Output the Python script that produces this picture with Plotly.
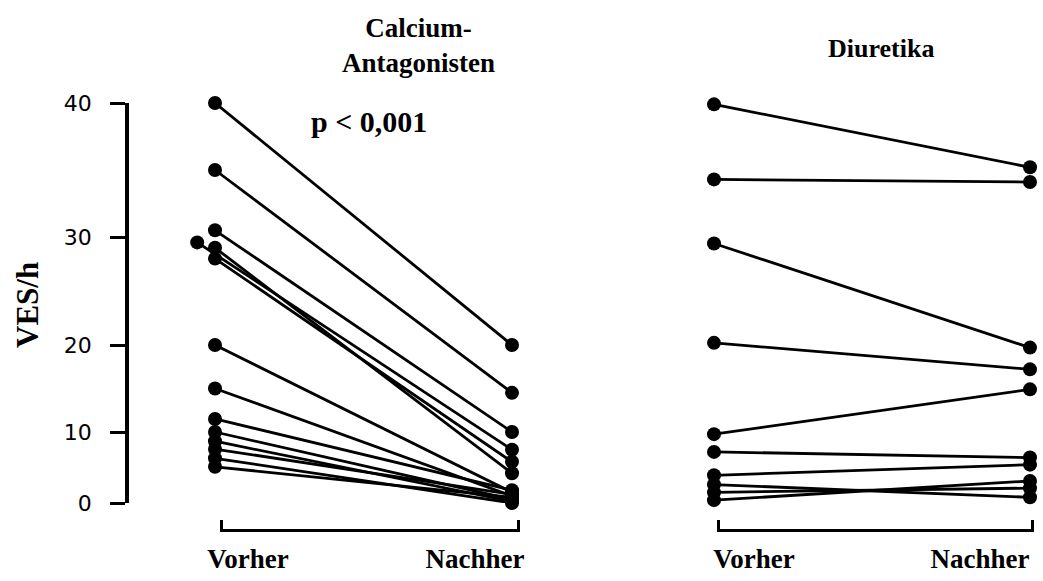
import numpy as np
import plotly.graph_objects as go

# VES/h per patient, before ("Vorher") and after ("Nachher") treatment
ca_vorher = [40, 35, 30.5, 29.5, 29, 28, 20, 15, 11.5, 10, 8.7, 7.6, 6.3, 5.1]
ca_nachher = [20, 14.5, 10, 7.5, 4.2, 5.8, 1.5, 1.0, 1.8, 0.5, 0.2, 1.2, 0.0, 0.8]

di_vorher = [39.9, 34.3, 29.4, 20.2, 9.7, 7.2, 3.9, 2.6, 1.5, 0.4]
di_nachher = [35.2, 34.1, 19.7, 17.2, 14.9, 6.4, 5.4, 0.8, 2.1, 3.1]

# small sideways shift so overlapping dots stay visible
ca_dodge = [0, 0, 0, -0.06, 0, 0, 0, 0, 0, 0, 0, 0, 0, 0]

y_ticks = [0, 10, 20, 30, 40]
# the printed ordinate is stretched towards the top; spacing of the tick steps
scale_steps = [0, 71, 158, 266, 400]


def scale(v):
    return np.interp(v, y_ticks, scale_steps)


def pairs(before, after, dodge=None):
    xs, ys = [], []
    for i, (b, a) in enumerate(zip(before, after)):
        d = dodge[i] if dodge else 0
        xs += [0 + d, 1, None]
        ys += [float(scale(b)), float(scale(a)), None]
    return xs, ys


W, H = 1043, 581
TOP, BOT = 90, 530          # plot area in pixels
PH = BOT - TOP

serif = "Liberation Serif"
sans = "DejaVu Sans"


def px_x(p):
    return p / W


def px_y(p):
    return (BOT - p) / PH


fig = go.Figure()

# data layers (x3, x4) sit on wide invisible axes; x and x2 carry the brackets
x1, y1 = pairs(ca_vorher, ca_nachher, ca_dodge)
x2, y2 = pairs(di_vorher, di_nachher)
for xs, ys, xa in ((x1, y1, "x3"), (x2, y2, "x4")):
    fig.add_trace(go.Scatter(
        x=xs, y=ys, mode="lines+markers", xaxis=xa, yaxis="y",
        line=dict(color="black", width=2.8),
        marker=dict(color="black", size=14), cliponaxis=False,
        hoverinfo="skip", showlegend=False,
    ))
for xa in ("x", "x2"):
    fig.add_trace(go.Scatter(x=[None], y=[None], xaxis=xa, yaxis="y",
                             mode="markers", hoverinfo="skip", showlegend=False))


def data_axis(dom_px, v0_px, v1_px):
    span = v1_px - v0_px
    return dict(
        domain=[px_x(dom_px[0]), px_x(dom_px[1])],
        range=[(dom_px[0] - v0_px) / span, (dom_px[1] - v0_px) / span],
        anchor="y", visible=False, fixedrange=True,
    )


def bracket_axis(dom_px, lab_px):
    span = dom_px[1] - dom_px[0]
    return dict(
        domain=[px_x(dom_px[0]), px_x(dom_px[1])],
        range=[0, 1], anchor="free", position=0,
        showline=True, linecolor="black", linewidth=3,
        showgrid=False, zeroline=False, ticks="",
        tickvals=[(lab_px[0] - dom_px[0]) / span, (lab_px[1] - dom_px[0]) / span],
        ticktext=["<b>Vorher</b>", "<b>Nachher</b>"],
        tickfont=dict(family=serif, size=27, color="black"),
        ticklabelstandoff=4,
        minor=dict(tickvals=[0.004, 0.996], ticks="inside",
                   ticklen=9, tickwidth=3, tickcolor="black"),
        automargin=False, fixedrange=True,
    )


fig.update_layout(
    width=W, height=H,
    margin=dict(l=0, r=0, t=TOP, b=H - BOT),
    paper_bgcolor="white", plot_bgcolor="white",
    xaxis=bracket_axis((220, 520), (248, 475)),
    xaxis2=bracket_axis((717, 1034), (754, 980)),
    xaxis3=data_axis((195, 535), 215, 512),
    xaxis4=data_axis((695, 1043), 714, 1030),
    yaxis=dict(
        domain=[px_y(503), px_y(103)], range=[0, 400],
        anchor="free", position=px_x(127), side="left",
        showline=True, linecolor="black", linewidth=3.5,
        showgrid=False, zeroline=False,
        tickvals=[float(v) for v in scale(y_ticks)],
        ticktext=[str(t) for t in y_ticks],
        ticks="outside", ticklen=15, tickwidth=3, tickcolor="black",
        tickfont=dict(family=sans, size=22, color="black"),
        ticklabelstandoff=14,
        automargin=False, fixedrange=True,
    ),
)


def label(text, x, y, size, angle=0):
    fig.add_annotation(
        text=text, textangle=angle, showarrow=False,
        x=px_x(x), y=px_y(y), xref="paper", yref="paper",
        xanchor="center", yanchor="middle",
        font=dict(family=serif, size=size, color="black"),
    )


label("<b>VES/h</b>", 27, 305, 31, angle=-90)
label("<b>Calcium-</b><br><b>Antagonisten</b>", 418, 46, 27)
label("<b>p < 0,001</b>", 369, 121, 30)
label("<b>Diuretika</b>", 881, 48, 26)

fig.write_html("out.html")
